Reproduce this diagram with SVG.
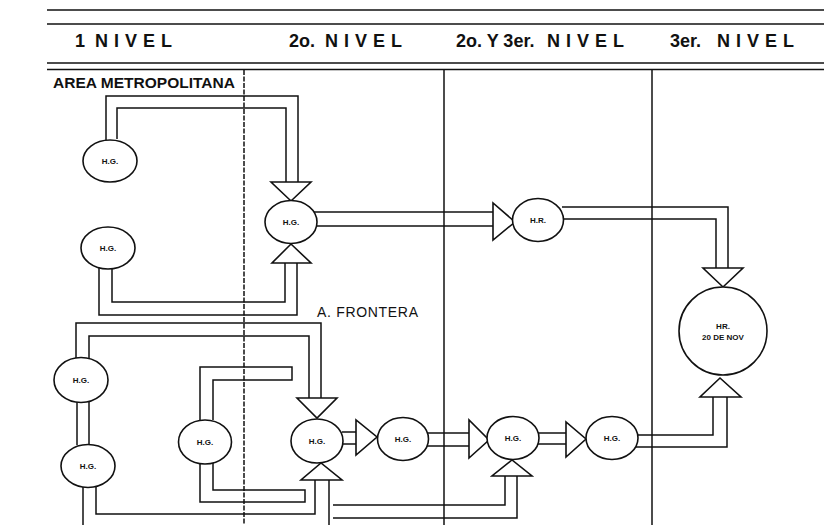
<svg xmlns="http://www.w3.org/2000/svg" width="824" height="525" viewBox="0 0 824 525">
<style>
.ln{fill:none;stroke:#111;stroke-width:1.5}
.nd{fill:#fff;stroke:#111;stroke-width:1.6}
.tri{fill:#fff;stroke:#111;stroke-width:1.6;stroke-linejoin:miter}
.sep{stroke:#111;stroke-width:1.5}
.hd{font-family:"Liberation Sans",Arial,sans-serif;font-weight:bold;font-size:18px;fill:#111}
.lb{font-family:"Liberation Sans",Arial,sans-serif;font-weight:bold;font-size:8px;fill:#111;text-anchor:middle}
.ar{font-family:"Liberation Sans",Arial,sans-serif;font-size:14px;fill:#111}
</style>
<rect width="824" height="525" fill="#fff"/>
<g id="header">
<line x1="47" y1="10" x2="824" y2="10" class="sep"/>
<line x1="47" y1="24" x2="824" y2="24" class="sep" stroke-width="2"/>
<line x1="47" y1="63" x2="824" y2="63" class="sep" stroke-width="1.2"/>
<line x1="47" y1="69.5" x2="824" y2="69.5" class="sep" stroke-width="2.4"/>
<text class="hd" x="75" y="47">1<tspan x="95" letter-spacing="6">NIVEL</tspan></text>
<text class="hd" x="289" y="47">2o.<tspan x="325" letter-spacing="6">NIVEL</tspan></text>
<text class="hd" x="456" y="47">2o. Y 3er.<tspan x="547" letter-spacing="6">NIVEL</tspan></text>
<text class="hd" x="670" y="47">3er.<tspan x="717" letter-spacing="6">NIVEL</tspan></text>
</g>
<g id="separators">
<line x1="244" y1="70" x2="244" y2="525" class="sep" stroke-dasharray="5 1.5"/>
<line x1="444" y1="70" x2="444" y2="525" class="sep"/>
<line x1="652" y1="70" x2="652" y2="525" class="sep"/>
</g>
<g id="labels">
<text class="ar" x="53" y="88" font-weight="bold" textLength="182" lengthAdjust="spacingAndGlyphs">AREA METROPOLITANA</text>
<text class="ar" x="317" y="317" font-size="13" textLength="101" lengthAdjust="spacing">A. FRONTERA</text>
</g>
<g id="connectors">
<path class="ln" d="M106,140 V96 H298 V182"/>
<path class="ln" d="M117,139 V108 H286 V182"/>
<path class="ln" d="M99,268 V315 H297 V263"/>
<path class="ln" d="M112,268 V302 H285 V263"/>
<path class="ln" d="M314,212 H493"/>
<path class="ln" d="M315,226 H493"/>
<path class="ln" d="M562,207 H728 V268"/>
<path class="ln" d="M563,219 H716 V268"/>
<path class="ln" d="M636,435 H713 V397"/>
<path class="ln" d="M635,447 H727 V397"/>
<path class="ln" d="M76,358 V323 H321 V398"/>
<path class="ln" d="M89,358 V336 H309 V398"/>
<path class="ln" d="M77,402 V445"/>
<path class="ln" d="M89,402 V445"/>
<path class="ln" d="M83,487 V525"/>
<path class="ln" d="M96,487 V514 H315 V480"/>
<path class="ln" d="M200,421 V367 H292 V380 H213 V420"/>
<path class="ln" d="M200,463 V502 H305 V490 H213 V463"/>
<path class="ln" d="M342,432 H356"/>
<path class="ln" d="M342,444 H356"/>
<path class="ln" d="M427,433 H469"/>
<path class="ln" d="M427,446 H469"/>
<path class="ln" d="M538,433 H566"/>
<path class="ln" d="M538,444 H566"/>
<path class="ln" d="M505,476 V505 H333"/>
<path class="ln" d="M517,476 V518 H333"/>
<path class="ln" d="M329,480 V525"/>
</g>
<g id="triangles">
<polygon class="tri" points="271,182 311,182 291,201"/>
<polygon class="tri" points="272,263 311,263 291,244"/>
<polygon class="tri" points="493,203 493,240 515,222"/>
<polygon class="tri" points="703,268 743,268 723,287"/>
<polygon class="tri" points="700,397 741,397 720,378"/>
<polygon class="tri" points="297,398 337,398 317,418"/>
<polygon class="tri" points="301,480 342,480 321,463"/>
<polygon class="tri" points="356,420 356,455 377,437"/>
<polygon class="tri" points="469,420 469,458 489,440"/>
<polygon class="tri" points="492,476 532,476 512,460"/>
<polygon class="tri" points="566,422 566,457 586,439"/>
</g>
<g id="hg1"><ellipse class="nd" cx="110" cy="161" rx="27" ry="21"/><text class="lb" x="110" y="164">H.G.</text></g>
<g id="hg2"><ellipse class="nd" cx="108" cy="248" rx="27" ry="21"/><text class="lb" x="108" y="251">H.G.</text></g>
<g id="hg3"><ellipse class="nd" cx="291" cy="222" rx="26" ry="21.5"/><text class="lb" x="291" y="225">H.G.</text></g>
<g id="hr"><ellipse class="nd" cx="538" cy="220" rx="25.5" ry="21.5"/><text class="lb" x="538" y="223">H.R.</text></g>
<g id="hr20"><circle class="nd" cx="723" cy="331" r="44"/><text class="lb" x="723" y="329">HR.</text><text class="lb" x="723" y="340">20 DE NOV</text></g>
<g id="hg4"><ellipse class="nd" cx="81" cy="380" rx="27" ry="22.5"/><text class="lb" x="81" y="383">H.G.</text></g>
<g id="hg5"><ellipse class="nd" cx="88" cy="466" rx="27" ry="21.5"/><text class="lb" x="88" y="469">H.G.</text></g>
<g id="hg6"><ellipse class="nd" cx="205" cy="442" rx="26.5" ry="22"/><text class="lb" x="205" y="445">H.G.</text></g>
<g id="hg7"><ellipse class="nd" cx="317" cy="441" rx="26" ry="22"/><text class="lb" x="317" y="444">H.G.</text></g>
<g id="hg8"><ellipse class="nd" cx="403" cy="439" rx="25.5" ry="21.5"/><text class="lb" x="403" y="442">H.G.</text></g>
<g id="hg9"><ellipse class="nd" cx="513" cy="438" rx="26" ry="21.5"/><text class="lb" x="513" y="441">H.G.</text></g>
<g id="hg10"><ellipse class="nd" cx="612" cy="438" rx="26" ry="21.5"/><text class="lb" x="612" y="441">H.G.</text></g>
</svg>
